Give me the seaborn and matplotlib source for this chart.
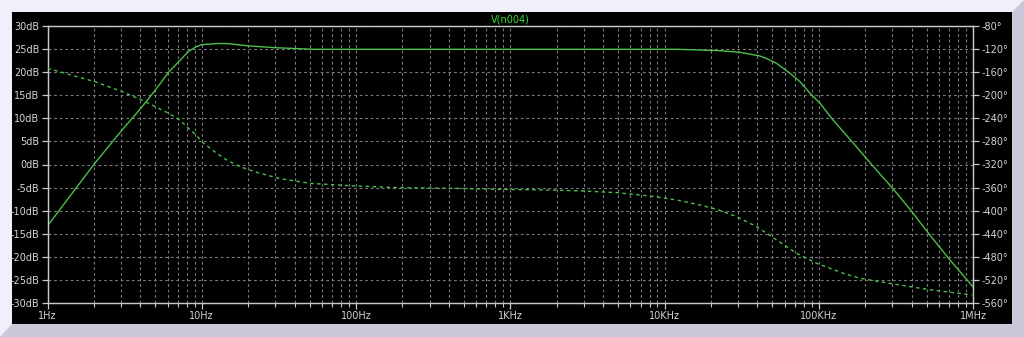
import numpy as np
import pandas as pd
import matplotlib
matplotlib.use("Agg")
import matplotlib.pyplot as plt
import seaborn as sns
from matplotlib.patches import Rectangle, Polygon
from matplotlib.ticker import FixedLocator, NullFormatter

# ---- data (LTspice Bode plot of V(n004)) ----
mag_freq = [1, 2.03, 3.05, 4.08, 5.1, 6.1, 7.2, 8.2, 9.2, 10, 12.5, 14.5, 20, 30,
            54, 200, 1000, 5000, 12000, 17000, 22900, 30900, 41600, 47100, 53300, 65200,
            75700, 88000, 102000, 124000, 160000, 220000, 304000, 401000, 526000,
            710000, 1000000]
mag_db = [-13.3, 0.3, 7.5, 12.4, 16.5, 20.0, 22.5, 24.5, 25.5, 25.95, 26.2, 26.2, 25.7, 25.3,
          24.95, 24.95, 24.95, 24.95, 24.95, 24.8, 24.65, 24.3, 23.5, 22.8, 21.9, 19.75,
          17.9, 15.4, 13.25, 9.6, 5.4, 0.0, -5.3, -10.2, -15.3,
          -20.7, -26.5]

ph_freq = [1, 2.03, 3.05, 4.08, 5.1, 6.1, 7.2, 8.2, 9.2, 10, 12.5, 14.5, 17.7, 22.7, 31.4,
           50, 91, 193, 406, 859, 1810, 2980, 4900, 8050, 12000, 17000, 21800, 29400,
           39600, 53300, 71900, 97000, 144000, 185000, 304000, 501000, 982000]
ph_deg = [-153.3, -176.5, -193.8, -208.2, -220.9, -231.3, -242.9, -257.3, -268.9, -280.5,
          -300.6, -312.2, -323.8, -333.5, -343.9, -352.6, -356.7, -360.2, -361.2, -363.0,
          -364.2, -365.9, -368.8, -374.6, -381.5, -390.2, -397.6, -410.4, -427.8, -450.8,
          -473.9, -491.2, -508.5, -517.2, -527.0, -536.2, -546.1]

db_ticks = list(range(-30, 31, 5))
db_labels = [f"{v}dB" for v in db_ticks]
ph_ticks = list(range(-560, -79, 40))
ph_labels = [f"{v}\u00b0" for v in ph_ticks]
f_ticks = [1, 10, 100, 1e3, 1e4, 1e5, 1e6]
f_labels = ["1Hz", "10Hz", "100Hz", "1KHz", "10KHz", "100KHz", "1MHz"]
title = "V(n004)"

mag_df = pd.DataFrame({"freq": mag_freq, "db": mag_db})
ph_df = pd.DataFrame({"freq": ph_freq, "deg": ph_deg})

# ---- figure / window chrome ----
W, H = 1024, 337
fig = plt.figure(figsize=(W / 100, H / 100), dpi=100)
fig.patch.set_facecolor("#f0f0fc")


def fx(px):
    return px / W


def fy(py):
    return 1 - py / H


fig.patches.append(Polygon(
    [(fx(1024), fy(0)), (fx(1024), fy(337)), (fx(0), fy(337)), (fx(12), fy(324)),
     (fx(1012), fy(324)), (fx(1012), fy(12))],
    closed=True, transform=fig.transFigure, facecolor="#c8c8d8", edgecolor="none", zorder=-10))
fig.patches.append(Rectangle((fx(12), fy(324)), fx(1000), (324 - 12) / H,
                             transform=fig.transFigure, facecolor="black",
                             edgecolor="none", zorder=-10))

ax = fig.add_axes([fx(47.5), fy(303), (973 - 47.5) / W, (303 - 26) / H])
ax.set_facecolor("black")
ax.set_xscale("log")

green = "#4cbf4c"
sns.lineplot(data=mag_df, x="freq", y="db", ax=ax, color=green, lw=1.0, zorder=5)

ax.set_xlim(1, 1e6)
ax.set_ylim(-30, 30)
ax.xaxis.set_major_locator(FixedLocator(f_ticks))
ax.set_xticklabels(f_labels)
minor = [m * 10 ** d for d in range(0, 6) for m in range(2, 10)]
ax.xaxis.set_minor_locator(FixedLocator(minor))
ax.xaxis.set_minor_formatter(NullFormatter())
ax.set_yticks(db_ticks)
ax.set_yticklabels(db_labels)
ax.set_xlabel("")
ax.set_ylabel("")

grid_kw = dict(color="#7a7a7a", linestyle=(0, (2.5, 2.5)), lw=0.8)
ax.grid(True, which="both", axis="x", **grid_kw)
ax.grid(True, which="major", axis="y", **grid_kw)
ax.set_axisbelow(True)

lab_col = "#d4d4d4"
spine_col = "#c8c8c8"
ax.tick_params(axis="both", which="major", direction="out", length=4, width=0.9,
               color=spine_col, labelcolor=lab_col, labelsize=7, pad=2)
ax.tick_params(axis="x", which="minor", direction="out", length=3, width=0.8, color=spine_col)
for s in ax.spines.values():
    s.set_color(spine_col)
    s.set_linewidth(0.9)

ax2 = ax.twinx()
sns.lineplot(data=ph_df, x="freq", y="deg", ax=ax2, color=green, lw=1.0, zorder=5)
ax2.lines[0].set_linestyle((0, (2.5, 2.5)))
ax2.set_ylim(-560, -80)
ax2.set_yticks(ph_ticks)
ax2.set_yticklabels(ph_labels)
ax2.set_ylabel("")
ax2.set_xlim(1, 1e6)
ax2.grid(False)
ax2.tick_params(axis="y", direction="out", length=4, width=0.9, color=spine_col,
                labelcolor=lab_col, labelsize=7, pad=2)
for s in ax2.spines.values():
    s.set_color(spine_col)
    s.set_linewidth(0.9)

fig.text(fx(510), fy(19), title, color="#33e033", ha="center", va="center", fontsize=7)

fig.savefig("out.png", dpi=100, facecolor=fig.get_facecolor())
